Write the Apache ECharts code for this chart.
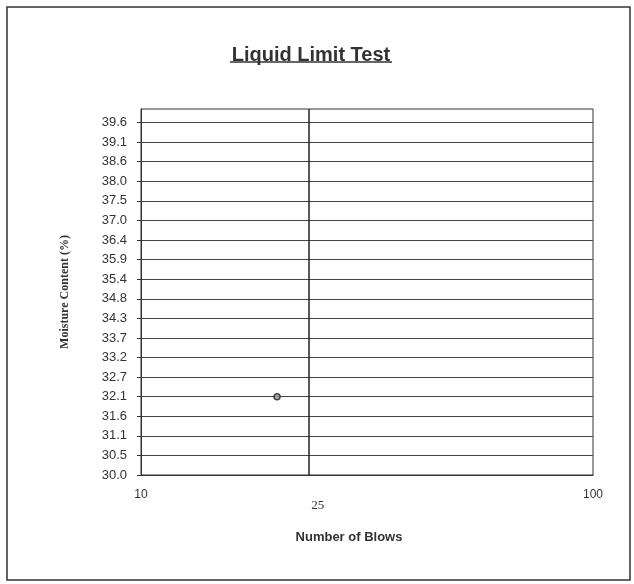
<!DOCTYPE html>
<html>
<head>
<meta charset="utf-8">
<script src="https://cdn.jsdelivr.net/npm/echarts@6/dist/echarts.min.js"></script>
<style>html,body{margin:0;padding:0;background:#fff}#c{width:634px;height:584px}</style>
</head>
<body>
<div id="c"></div>
<script>
// Data
const yTickValues = [30.0, 30.535, 31.07, 31.605, 32.14, 32.675, 33.21, 33.745, 34.28, 34.815, 35.35, 35.885, 36.42, 36.955, 37.49, 38.025, 38.56, 39.095, 39.63];
const yTickLabels = ['30.0','30.5','31.1','31.6','32.1','32.7','33.2','33.7','34.3','34.8','35.4','35.9','36.4','37.0','37.5','38.0','38.6','39.1','39.6'];
const xTickValues = [10, 100];
const blows = [20];
const moisture = [32.14];
const refLineX = [23.5];
const refLineLabel = '25';

const chart = echarts.init(document.getElementById('c'));
chart.setOption({
  backgroundColor: '#fff',
  animation: false,
  title: {
    text: 'Liquid Limit Test',
    left: 306, top: 40, textAlign: 'center',
    textStyle: { fontFamily: 'Liberation Sans, Arial', fontWeight: 'bold', fontSize: 20, color: '#333' }
  },
  grid: { left: 141, right: 41, top: 109, bottom: 109, show: true, borderColor: '#333', borderWidth: 1 },
  xAxis: {
    type: 'log', logBase: 10, min: 10, max: 100,
    name: 'Number of Blows', nameLocation: 'middle', nameGap: 56,
    nameTextStyle: { fontFamily: 'Liberation Sans, Arial', fontWeight: 'bold', fontSize: 13, color: '#333', padding: [0, 36, 0, 0] },
    axisLine: { show: true, lineStyle: { color: '#333' } },
    axisTick: { show: false, customValues: xTickValues },
    axisLabel: { customValues: xTickValues, margin: 14, fontFamily: 'Liberation Sans, Arial', fontSize: 12, color: '#333' },
    splitLine: { show: false },
    minorSplitLine: { show: false }
  },
  yAxis: {
    type: 'value', min: 30, max: 40,
    name: 'Moisture Content (%)', nameLocation: 'middle', nameGap: 70, nameRotate: 90,
    nameTextStyle: { fontFamily: 'Liberation Serif, Times New Roman', fontWeight: 'bold', fontSize: 12, color: '#333' },
    axisLine: { show: true, lineStyle: { color: '#333' } },
    axisTick: { show: true, inside: false, length: 4, customValues: yTickValues, lineStyle: { color: '#333' } },
    axisLabel: {
      customValues: yTickValues, margin: 14,
      fontFamily: 'Liberation Sans, Arial', fontSize: 13, color: '#333',
      formatter: function (v) {
        let best = 0, d = Infinity;
        yTickValues.forEach(function (t, i) { if (Math.abs(t - v) < d) { d = Math.abs(t - v); best = i; } });
        return yTickLabels[best];
      }
    },
    splitLine: { show: true, lineStyle: { color: '#444', width: 1 } }
  },
  series: [{
    type: 'scatter',
    data: blows.map(function (b, i) { return [b, moisture[i]]; }),
    symbol: 'circle', symbolSize: 6,
    itemStyle: { color: '#999', borderColor: '#222', borderWidth: 1.5 },
    markLine: {
      silent: true, symbol: 'none', animation: false,
      lineStyle: { color: '#222', width: 1.5, type: 'solid' },
      label: { show: true, position: 'start', formatter: refLineLabel, distance: 24, padding: [0, 0, 0, 18], fontFamily: 'Liberation Serif, Times New Roman', fontSize: 13, color: '#333' },
      data: refLineX.map(function (x) { return { xAxis: x }; })
    }
  }],
  graphic: [
    { type: 'rect', shape: { x: 7, y: 7, width: 623, height: 573 }, style: { fill: null, stroke: '#333', lineWidth: 1.5 }, silent: true },
    { type: 'line', shape: { x1: 230, y1: 62, x2: 392, y2: 62 }, style: { stroke: '#333', lineWidth: 1.5 }, silent: true }
  ]
});
</script>
</body>
</html>
